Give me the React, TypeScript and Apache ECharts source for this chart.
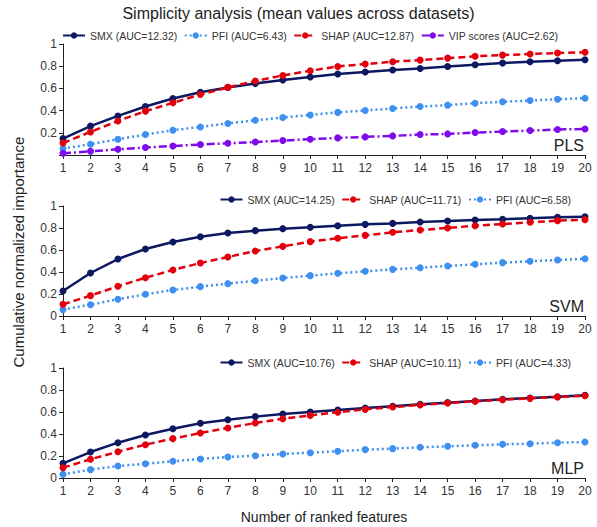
import React, { useEffect, useRef } from "react";
import * as echarts from "echarts";

const features = [1, 2, 3, 4, 5, 6, 7, 8, 9, 10, 11, 12, 13, 14, 15, 16, 17, 18, 19, 20];
const yTicks = [0, 0.2, 0.4, 0.6, 0.8, 1];

// PLS panel
const plsSMX = [0.148, 0.26, 0.352, 0.437, 0.509, 0.566, 0.609, 0.645, 0.675, 0.702, 0.729, 0.747, 0.765, 0.78, 0.798, 0.813, 0.828, 0.84, 0.849, 0.858];
const plsPFI = [0.058, 0.097, 0.142, 0.184, 0.223, 0.253, 0.284, 0.313, 0.338, 0.361, 0.384, 0.401, 0.419, 0.437, 0.449, 0.467, 0.479, 0.491, 0.503, 0.512];
const plsSHAP = [0.108, 0.208, 0.307, 0.395, 0.47, 0.545, 0.609, 0.666, 0.717, 0.759, 0.798, 0.819, 0.84, 0.855, 0.873, 0.889, 0.9, 0.91, 0.919, 0.925];
const plsVIP = [0.015, 0.033, 0.051, 0.067, 0.081, 0.094, 0.106, 0.117, 0.13, 0.142, 0.154, 0.163, 0.172, 0.184, 0.19, 0.202, 0.211, 0.22, 0.229, 0.235];

// SVM panel
const svmSMX = [0.227, 0.391, 0.518, 0.609, 0.673, 0.721, 0.755, 0.776, 0.794, 0.806, 0.821, 0.833, 0.842, 0.855, 0.864, 0.873, 0.879, 0.888, 0.897, 0.903];
const svmSHAP = [0.106, 0.185, 0.27, 0.348, 0.418, 0.482, 0.536, 0.591, 0.633, 0.676, 0.707, 0.733, 0.761, 0.782, 0.8, 0.821, 0.836, 0.852, 0.867, 0.876];
const svmPFI = [0.058, 0.103, 0.152, 0.197, 0.236, 0.267, 0.294, 0.321, 0.345, 0.367, 0.388, 0.406, 0.424, 0.439, 0.455, 0.47, 0.485, 0.497, 0.509, 0.521];

// MLP panel
const mlpSMX = [0.133, 0.236, 0.321, 0.391, 0.448, 0.497, 0.53, 0.558, 0.582, 0.6, 0.618, 0.636, 0.652, 0.67, 0.685, 0.7, 0.715, 0.727, 0.739, 0.752];
const mlpSHAP = [0.094, 0.17, 0.239, 0.303, 0.358, 0.409, 0.455, 0.5, 0.539, 0.569, 0.598, 0.624, 0.645, 0.664, 0.682, 0.697, 0.712, 0.724, 0.736, 0.748];
const mlpPFI = [0.033, 0.076, 0.109, 0.13, 0.152, 0.173, 0.191, 0.203, 0.218, 0.23, 0.243, 0.258, 0.267, 0.279, 0.288, 0.297, 0.306, 0.312, 0.321, 0.327];

const plsNames = ["SMX (AUC=12.32)", "PFI (AUC=6.43)", "SHAP (AUC=12.87)", "VIP scores (AUC=2.62)"];
const svmNames = ["SMX (AUC=14.25)", "SHAP (AUC=11.71)", "PFI (AUC=6.58)"];
const mlpNames = ["SMX (AUC=10.76)", "SHAP (AUC=10.11)", "PFI (AUC=4.33)"];
const panelLabels = ["PLS", "SVM", "MLP"];

const FONT = "'Liberation Sans', Arial, sans-serif";
const C_SMX = "#0c1860";
const C_PFI = "#3d8ff0";
const C_SHAP = "#e3000d";
const C_VIP = "#7d0bec";

const STYLE: Record<string, { color: string; type: any }> = {
  SMX: { color: C_SMX, type: "solid" },
  PFI: { color: C_PFI, type: [2, 3] },
  SHAP: { color: C_SHAP, type: [7, 4] },
  VIP: { color: C_VIP, type: [8, 3, 2, 3] },
};

const GRID_TOPS = [44, 206, 368];
const GRID_H = [111, 110, 110];

function App() {
  const ref = useRef<HTMLDivElement>(null);

  useEffect(() => {
    if (!ref.current) return;
    const chart = echarts.init(ref.current, null, { renderer: "svg" });

    const mkSeries = (name: string, key: string, values: number[], gi: number, z: number) => ({
      type: "line",
      name,
      xAxisIndex: gi,
      yAxisIndex: gi,
      data: features.map((f, i) => [f, values[i]]),
      symbol: "circle",
      symbolSize: 7,
      z,
      itemStyle: { color: STYLE[key].color },
      lineStyle: { color: STYLE[key].color, width: 2.5, type: STYLE[key].type },
    });

    const xAxes = GRID_TOPS.map((_, gi) => ({
      type: "value",
      gridIndex: gi,
      min: 1,
      max: 20,
      interval: 1,
      splitLine: { show: false },
      axisLine: { lineStyle: { color: "#222", width: 1 } },
      axisTick: { length: 4, lineStyle: { color: "#222" } },
      axisLabel: { color: "#333", fontSize: 12, fontFamily: FONT, margin: 7 },
    }));
    const yAxes = GRID_TOPS.map((_, gi) => ({
      type: "value",
      gridIndex: gi,
      min: yTicks[0],
      max: yTicks[yTicks.length - 1],
      interval: 0.2,
      splitLine: { show: false },
      axisLine: { show: true, lineStyle: { color: "#222", width: 1 } },
      axisTick: { show: true, length: 4, lineStyle: { color: "#222" } },
      axisLabel: {
        color: "#333",
        fontSize: 12,
        fontFamily: FONT,
        margin: 6,
        formatter: (v: number) => (gi === 0 && v === 0 ? "" : String(Math.round(v * 10) / 10)),
      },
    }));

    const legendBase = {
      itemWidth: 22,
      itemHeight: 8,
      itemGap: 6.5,
      width: 560,
      textStyle: { color: "#333", fontSize: 10.5, fontFamily: FONT },
    };

    chart.setOption({
      animation: false,
      backgroundColor: "#fff",
      title: {
        text: "Simplicity analysis (mean values across datasets)",
        left: "center",
        top: 0,
        textStyle: { color: "#222", fontSize: 16, fontWeight: "normal", fontFamily: FONT },
      },
      legend: [
        { ...legendBase, data: plsNames, left: 57, top: 25 },
        { ...legendBase, data: svmNames, right: 21, top: 189 },
        { ...legendBase, data: mlpNames, right: 21, top: 352 },
      ],
      grid: GRID_TOPS.map((t, i) => ({ left: 63, right: 12, top: t, height: GRID_H[i] })),
      xAxis: xAxes,
      yAxis: yAxes,
      series: [
        mkSeries(plsNames[0], "SMX", plsSMX, 0, 3),
        mkSeries(plsNames[1], "PFI", plsPFI, 0, 2),
        mkSeries(plsNames[2], "SHAP", plsSHAP, 0, 4),
        mkSeries(plsNames[3], "VIP", plsVIP, 0, 2),
        mkSeries(svmNames[0], "SMX", svmSMX, 1, 3),
        mkSeries(svmNames[1], "SHAP", svmSHAP, 1, 4),
        mkSeries(svmNames[2], "PFI", svmPFI, 1, 2),
        mkSeries(mlpNames[0], "SMX", mlpSMX, 2, 3),
        mkSeries(mlpNames[1], "SHAP", mlpSHAP, 2, 4),
        mkSeries(mlpNames[2], "PFI", mlpPFI, 2, 2),
      ],
      graphic: [
        ...panelLabels.map((lbl, i) => ({
          type: "text",
          right: 13,
          top: GRID_TOPS[i] + GRID_H[i] - 18,
          style: { text: lbl, fontSize: 16, fontFamily: FONT, fill: "#222" },
        })),
        {
          type: "text",
          x: 18,
          y: 252,
          rotation: Math.PI / 2,
          style: {
            text: "Cumulative normalized importance",
            fontSize: 15,
            fontFamily: FONT,
            fill: "#222",
            align: "center",
            verticalAlign: "middle",
          },
        },
        {
          type: "text",
          x: 324,
          y: 517,
          style: {
            text: "Number of ranked features",
            fontSize: 14,
            fontFamily: FONT,
            fill: "#222",
            align: "center",
            verticalAlign: "middle",
          },
        },
      ],
    });

    return () => chart.dispose();
  }, []);

  return (
    <div
      ref={ref}
      style={{ position: "fixed", left: 0, top: 0, width: 597, height: 527, background: "#fff" }}
    />
  );
}

export default App;
